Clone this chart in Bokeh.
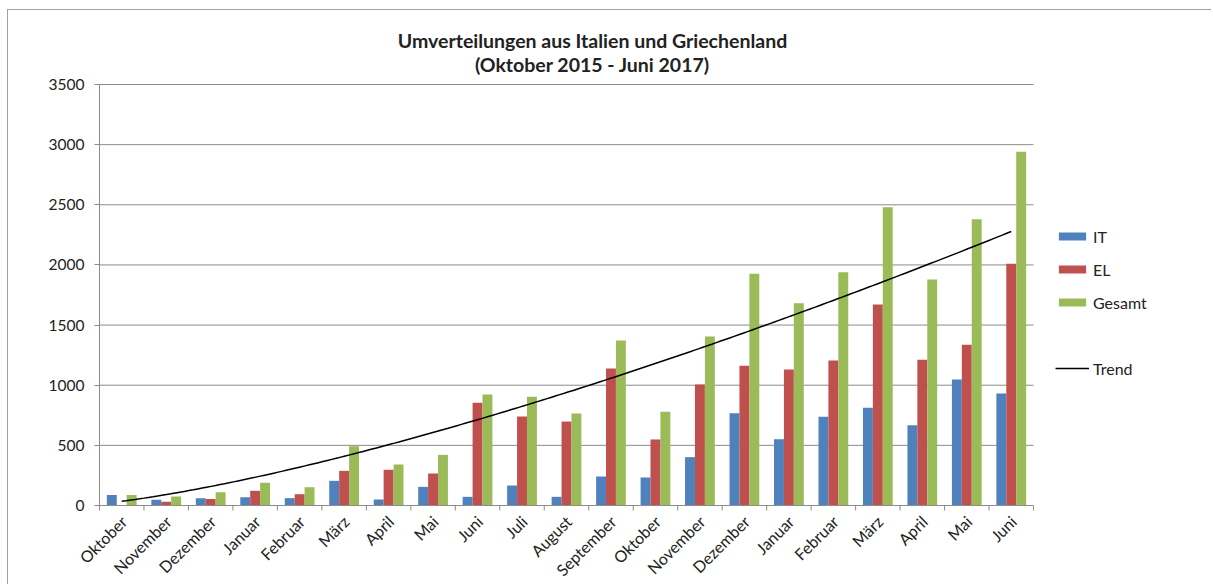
import numpy as np
from bokeh.plotting import figure
from bokeh.models import (Range1d, FixedTicker, Legend, LegendItem, Label)
from bokeh.core.properties import value
from bokeh.embed import file_html
from bokeh.resources import INLINE
from math import pi

months = ["Oktober", "November", "Dezember", "Januar", "Februar", "März", "April", "Mai",
          "Juni", "Juli", "August", "September", "Oktober", "November", "Dezember",
          "Januar", "Februar", "März", "April", "Mai", "Juni"]
it_vals = [88, 47, 61, 69, 61, 205, 50, 155, 72, 166, 72, 241, 233, 402, 766, 551, 737,
           812, 667, 1047, 931]
el_vals = [0, 31, 55, 122, 94, 288, 297, 266, 854, 740, 698, 1139, 549, 1006, 1161, 1130,
           1205, 1671, 1211, 1336, 2009]
gesamt_vals = [88, 75, 111, 189, 152, 493, 341, 421, 923, 904, 765, 1372, 779, 1405, 1926,
               1682, 1939, 2480, 1878, 2380, 2940]
y_ticks = [0, 500, 1000, 1500, 2000, 2500, 3000, 3500]
title_lines = ["Umverteilungen aus Italien und Griechenland", "(Oktober 2015 - Juni 2017)"]

FONT = "Lato"
GRAY = "#8c8c8c"
TXT = "#222222"

n = len(months)
xs = np.arange(1, n + 1)
bw = 0.223
ymax = y_ticks[-1]

# page layout: category area x 99..1033, value 0 at y=505, 3500 at y=84
px_per_x = (1033 - 99) / n          # pixels per category
dy_per_px = ymax / (505 - 84)       # data units per vertical pixel
FL, FR, FT, FB = 9, 1204, 14, 585   # frame edges on the page
x_start = 0.5 - (99 - FL) / px_per_x
x_end = 0.5 + (FR - 99) / px_per_x
y_end = ymax + (84 - FT) * dy_per_px
y_start = -(FB - 505) * dy_per_px

p = figure(width=1204, height=575, output_backend="svg", toolbar_location=None,
           x_range=Range1d(x_start, x_end), y_range=Range1d(y_start, y_end),
           min_border_left=1, min_border_right=8, min_border_top=4, min_border_bottom=0)
p.styles = {"margin-left": "7px", "margin-top": "9px",
            "border-left": "1px solid #a0a0a0", "border-top": "1px solid #a0a0a0"}
p.outline_line_color = None
p.xgrid.grid_line_color = None
p.ygrid.grid_line_color = None
p.xaxis.visible = False

# horizontal grid lines limited to the category area
p.segment(x0=0.5, x1=n + 0.5, y0=y_ticks[1:], y1=y_ticks[1:], line_color=GRAY, line_width=1)

r_it = p.vbar(x=xs - bw, top=it_vals, width=bw, bottom=0, fill_color="#4F81BD", line_color=None)
r_el = p.vbar(x=xs, top=el_vals, width=bw, bottom=0, fill_color="#C0504D", line_color=None)
r_ge = p.vbar(x=xs + bw, top=gesamt_vals, width=bw, bottom=0, fill_color="#9BBB59", line_color=None)

# category axis: line, tick marks between categories, rotated labels
bounds_x = np.arange(0.5, n + 1, 1.0)
p.segment(x0=[0.5], x1=[n + 0.5], y0=[0], y1=[0], line_color=GRAY, line_width=1)
p.segment(x0=bounds_x, x1=bounds_x, y0=0, y1=-5 * dy_per_px, line_color=GRAY, line_width=1)
p.text(x=xs + 2 / px_per_x, y=-13 * dy_per_px, text=months, angle=pi / 4,
       text_align="right", text_baseline="middle", text_font=value(FONT),
       text_font_size="16px", text_color=TXT)

# power trendline (least squares on log-log), as the spreadsheet trend
b, ln_a = np.polyfit(np.log(xs), np.log(gesamt_vals), 1)
tx = np.linspace(1, n, 200)
r_tr = p.line(tx, np.exp(ln_a) * tx ** b, line_color="black", line_width=1.5)
r_sp = p.line([1, 2], [0, 0], line_alpha=0)

# value axis
p.yaxis.fixed_location = 0.5
p.yaxis.bounds = (0, ymax)
p.yaxis.ticker = FixedTicker(ticks=y_ticks)
p.yaxis.minor_tick_line_color = None
p.yaxis.major_tick_line_color = GRAY
p.yaxis.major_tick_in = 0
p.yaxis.major_tick_out = 5
p.yaxis.axis_line_color = GRAY
p.yaxis.major_label_text_font = FONT
p.yaxis.major_label_text_font_size = "15.5px"
p.yaxis.major_label_text_color = TXT
p.yaxis.major_label_standoff = 10

# title (two centred lines)
tx_c = 0.5 + (592 - 99) / px_per_x
for t, py in zip(title_lines, [40, 64]):
    p.add_layout(Label(x=tx_c, y=ymax + (84 - py) * dy_per_px, text=t, text_align="center",
                       text_baseline="middle", text_font=FONT, text_font_style="bold",
                       text_font_size="19.5px", text_color=TXT))

leg = Legend(items=[LegendItem(label="IT", renderers=[r_it]),
                    LegendItem(label="EL", renderers=[r_el]),
                    LegendItem(label="Gesamt", renderers=[r_ge]),
                    LegendItem(label=" ", renderers=[r_sp]),
                    LegendItem(label="Trend", renderers=[r_tr])],
             location=(1055 - FL, FB - 378), glyph_width=34, glyph_height=10,
             label_height=20, spacing=13, padding=0, margin=0, label_standoff=4,
             label_text_font=FONT, label_text_font_size="16px", label_text_color=TXT,
             border_line_color=None, background_fill_alpha=0)
p.add_layout(leg, "center")

open("out.html", "w").write(file_html(p, INLINE))
